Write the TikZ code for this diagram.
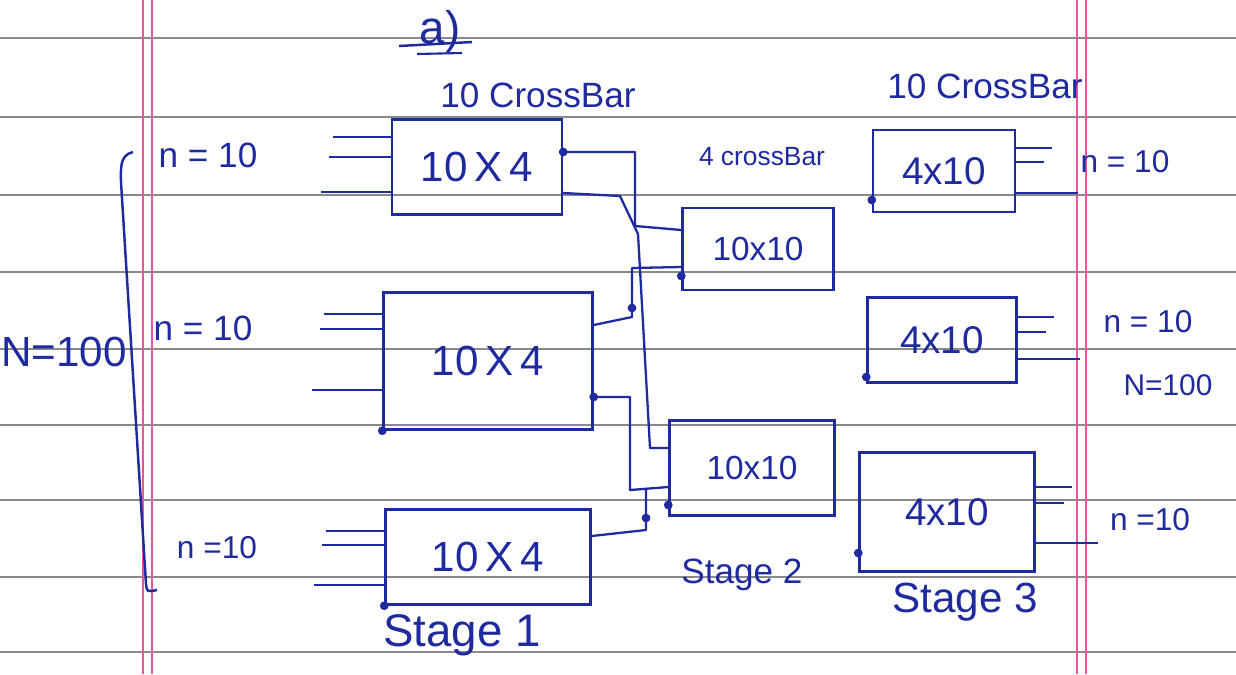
\documentclass[tikz,border=0pt]{standalone}
\usepackage{fontspec}
\setmainfont{Liberation Sans}
\usetikzlibrary{calc}
\definecolor{ink}{HTML}{1F2A9E}
\definecolor{rule}{HTML}{8A8A8A}
\definecolor{margin}{HTML}{E8559A}
\tikzset{
    xbar/.style={draw=ink, line width=1.4pt, inner sep=0pt, text=ink},
    wire/.style={draw=ink, line width=1.3pt, line join=round},
    lbl/.style={text=ink, inner sep=1pt},
    blob/.style={fill=ink, circle, inner sep=0pt, minimum size=5pt}
}
\newcommand{\fs}[1]{\fontsize{#1}{#1}\selectfont}
\begin{document}
\begin{tikzpicture}[x=0.02cm, y=-0.02cm]
    \useasboundingbox (0,0) rectangle (1236,674);
    \fill[white] (0,0) rectangle (1236,674);

    % ruled paper
    \foreach \y in {38,117,195,272,349,425,500,577,652}
        \draw[rule, line width=0.9pt] (0,\y) -- (1236,\y);
    \foreach \x in {143,152,1077,1086}
        \draw[margin, line width=0.9pt] (\x,0) -- (\x,674);

    % stage 1
    \node[xbar, minimum width=3.4cm, minimum height=1.9cm] (b1) at (477,167) {\fs{24}10\,X\,4};
    \node[xbar, minimum width=4.18cm, minimum height=2.74cm] (b2) at (488,361) {\fs{24}10\,X\,4};
    \node[xbar, minimum width=4.1cm, minimum height=1.9cm] (b3) at (488,557) {\fs{24}10\,X\,4};

    % stage 2
    \node[xbar, minimum width=3.02cm, minimum height=1.64cm] (c1) at (758,249) {\fs{19}10x10};
    \node[xbar, minimum width=3.3cm, minimum height=1.9cm] (c2) at (752,468) {\fs{19}10x10};

    % stage 3
    \node[xbar, minimum width=2.84cm, minimum height=1.64cm] (d1) at (944,171) {\fs{22}4x10};
    \node[xbar, minimum width=2.98cm, minimum height=1.7cm] (d2) at (942,340) {\fs{22}4x10};
    \node[xbar, minimum width=3.5cm, minimum height=2.38cm] (d3) at (947,512) {\fs{22}4x10};

    % inputs and outputs
    \foreach \b/\ya/\yb/\yc in {b1/137/157/192, b2/314/329/390, b3/531/545/585}{
        \draw[wire] (\b.west |- 0,\ya) -- ++(-58,0);
        \draw[wire] (\b.west |- 0,\yb) -- ++(-62,0);
        \draw[wire] (\b.west |- 0,\yc) -- ++(-70,0);
    }
    \foreach \b/\ya/\yb/\yc in {d1/148/162/193, d2/317/332/359, d3/487/503/543}{
        \draw[wire] (\b.east |- 0,\ya) -- ++(36,0);
        \draw[wire] (\b.east |- 0,\yb) -- ++(28,0);
        \draw[wire] (\b.east |- 0,\yc) -- ++(62,0);
    }

    % stage 1 to stage 2
    \draw[wire] (b1.east |- 0,152) -| (635,226) -- (c1.west |- 0,230);
    \draw[wire] (b1.east |- 0,193) -- (620,196) -- (638,234) -- (650,448) -- (c2.west |- 0,448);
    \draw[wire] (b2.east |- 0,325) -- (632,317) -- (632,268) -- (c1.west |- 0,267);
    \draw[wire] (b2.east |- 0,397) -| (630,490) -- (c2.west |- 0,487);
    \draw[wire] (b3.east |- 0,536) -- (646,530) -- (646,490);

    \foreach \p in {(b1.east |- 0,152), (c1.west |- 0,276), (632,308), (b2.east |- 0,397),
                    (b2.south west), (b3.south west), (c2.west |- 0,505), (646,518),
                    (d1.west |- 0,200), (d2.west |- 0,377), (d3.west |- 0,553)}
        \node[blob] at \p {};

    % brace round the inputs
    \draw[ink, line width=1.4pt] (133,152) .. controls (119,155) and (121,170) .. (121,182)
        -- (146,584) .. controls (147,592) .. (157,590);

    % labels
    \node[lbl] (title) at (440,32) {\fs{26}a)};
    \draw[ink, line width=1.4pt] (399,46) -- (472,42);
    \draw[ink, line width=1.2pt] (417,54) -- (462,53);
    \node[lbl] (top1) at (538,95) {\fs{20}10 CrossBar};
    \node[lbl] (top2) at (762,157) {\fs{15}4 crossBar};
    \node[lbl] (top3) at (985,86) {\fs{20}10 CrossBar};

    \node[lbl] (n1) at (208,155) {\fs{20}n = 10};
    \node[lbl] (n2) at (203,328) {\fs{20}n = 10};
    \node[lbl] (n3) at (217,548) {\fs{18}n =10};
    \node[lbl] (Nl) at (64,352) {\fs{24}N=100};

    \node[lbl] (n4) at (1125,162) {\fs{18}n = 10};
    \node[lbl] (n5) at (1148,322) {\fs{18}n = 10};
    \node[lbl] (Nr) at (1168,385) {\fs{17}N=100};
    \node[lbl] (n6) at (1150,520) {\fs{18}n =10};

    \node[lbl] (s1) at (462,635) {\fs{26}Stage 1};
    \node[lbl] (s2) at (742,575) {\fs{20}Stage 2};
    \node[lbl] (s3) at (965,602) {\fs{24}Stage 3};
\end{tikzpicture}
\end{document}
